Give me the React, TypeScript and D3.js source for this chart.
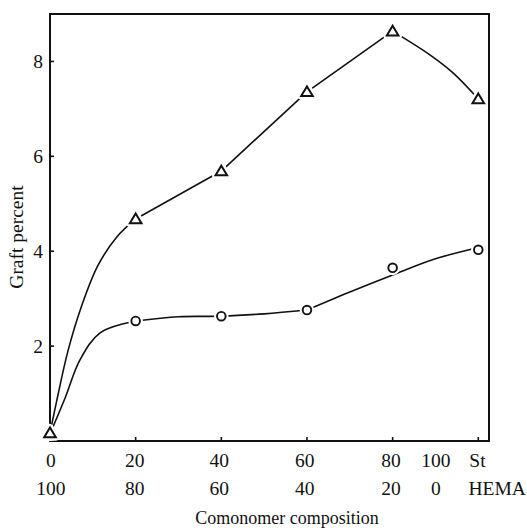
import React from 'react';
import * as d3 from 'd3';

// St content (%) of the comonomer feed
const stPercent = [0, 20, 40, 60, 80, 100];
// graft percent, triangle series
const triangleGraft = [0.17, 4.68, 5.69, 7.36, 8.64, 7.21];
// graft percent, circle series
const circleGraft = [0.15, 2.53, 2.63, 2.76, 3.65, 4.03];

// hand-drawn curves
const triangleCurveX = [0, 1.6, 4.2, 7.4, 11.2, 15.6, 20, 40, 60, 80, 88.7, 94.1, 100];
const triangleCurveY = [0.17, 0.86, 1.9, 2.85, 3.7, 4.3, 4.68, 5.69, 7.36, 8.64, 8.14, 7.76, 7.21];
const triangleCurveBreaks = [0, 20, 40, 60, 80, 100];
const circleCurveX = [0, 3.5, 7, 11.7, 20, 30, 40, 50, 60, 70, 80, 90, 100];
const circleCurveY = [0.15, 0.9, 1.71, 2.28, 2.53, 2.62, 2.63, 2.68, 2.76, 3.14, 3.5, 3.84, 4.08];
const circleCurveBreaks = [0, 20, 60, 100];

const yTicks = [2, 4, 6, 8];
const xTicks = [20, 40, 60, 80, 100];
const stLabels = ['0', '20', '40', '60', '80', '100', 'St'];
const stLabelPos = [0.2, 19.8, 39.5, 59.5, 79.6, 90.1, 99.8];
const hemaLabels = ['100', '80', '60', '40', '20', '0', 'HEMA'];
const hemaLabelPos = [0.2, 19.8, 39.5, 59.5, 79.6, 90.1, 104.4];

const W = 527;
const H = 530;
const FONT = '"Liberation Serif", "DejaVu Serif", serif';

function segments(xs: number[], ys: number[], breaks: number[]) {
  const pts = xs.map((v, i) => [v, ys[i]] as [number, number]);
  const segs: [number, number][][] = [];
  for (let b = 0; b < breaks.length - 1; b++) {
    segs.push(pts.filter((p) => p[0] >= breaks[b] && p[0] <= breaks[b + 1]));
  }
  return segs;
}

export default function App() {
  const x = d3.scaleLinear().domain([0, 102.5]).range([50, 489]);
  const y = d3.scaleLinear().domain([0, 9]).range([441, 14]);

  const line = d3
    .line<[number, number]>()
    .x((d) => x(d[0]))
    .y((d) => y(d[1]))
    .curve(d3.curveCatmullRom.alpha(0.5));

  const triSegs = segments(triangleCurveX, triangleCurveY, triangleCurveBreaks);
  const cirSegs = segments(circleCurveX, circleCurveY, circleCurveBreaks);

  const tri = 'M0,-5.4L5.8,4.3L-5.8,4.3Z';

  return (
    <svg
      width={W}
      height={H}
      style={{ position: 'absolute', left: 0, top: 0, background: '#fff' }}
      fontFamily={FONT}
    >
      <rect x={0} y={0} width={W} height={H} fill="#fff" />
      {/* curves */}
      {triSegs.map((s, i) => (
        <path key={'ts' + i} d={line(s) || ''} fill="none" stroke="#111" strokeWidth={1.6} />
      ))}
      {cirSegs.map((s, i) => (
        <path key={'cs' + i} d={line(s) || ''} fill="none" stroke="#111" strokeWidth={1.6} />
      ))}

      {/* frame */}
      <rect
        x={x(0)}
        y={y(9)}
        width={x(102.5) - x(0)}
        height={y(0) - y(9)}
        fill="none"
        stroke="#111"
        strokeWidth={2}
      />
      {yTicks.map((t) => (
        <g key={'y' + t}>
          <line x1={x(0)} x2={x(0) + 4} y1={y(t)} y2={y(t)} stroke="#111" strokeWidth={1.6} />
          <text x={43} y={y(t)} dy="0.35em" textAnchor="end" fontSize={19.5} fill="#111">
            {t}
          </text>
        </g>
      ))}
      {xTicks.map((t) => (
        <line key={'x' + t} x1={x(t)} x2={x(t)} y1={y(0)} y2={y(0) - 4} stroke="#111" strokeWidth={1.6} />
      ))}

      {/* markers */}
      {stPercent.map((s, i) => (
        <g key={'c' + s} transform={`translate(${x(s)},${y(circleGraft[i])})`}>
          <circle r={4.3} fill="#fff" stroke="#fff" strokeWidth={6} />
          <circle r={4.3} fill="#fff" stroke="#111" strokeWidth={1.9} />
        </g>
      ))}
      {stPercent.map((s, i) => (
        <g key={'t' + s} transform={`translate(${x(s)},${y(triangleGraft[i])})`}>
          <path d={tri} fill="#fff" stroke="#fff" strokeWidth={7} strokeLinejoin="round" />
          <path d={tri} fill="#fff" stroke="#111" strokeWidth={2} strokeLinejoin="miter" />
        </g>
      ))}

      {/* x labels */}
      {stLabels.map((l, i) => (
        <text key={'s' + i} x={x(stLabelPos[i])} y={467} textAnchor="middle" fontSize={19.5} fill="#111">
          {l}
        </text>
      ))}
      {hemaLabels.map((l, i) => (
        <text key={'h' + i} x={x(hemaLabelPos[i])} y={495} textAnchor="middle" fontSize={19.5} fill="#111">
          {l}
        </text>
      ))}
      <text x={287} y={524} textAnchor="middle" fontSize={18} fill="#111">
        Comonomer composition
      </text>
      <text
        transform={`translate(23,237) rotate(-90)`}
        textAnchor="middle"
        fontSize={19.5}
        fill="#111"
      >
        Graft percent
      </text>
    </svg>
  );
}
